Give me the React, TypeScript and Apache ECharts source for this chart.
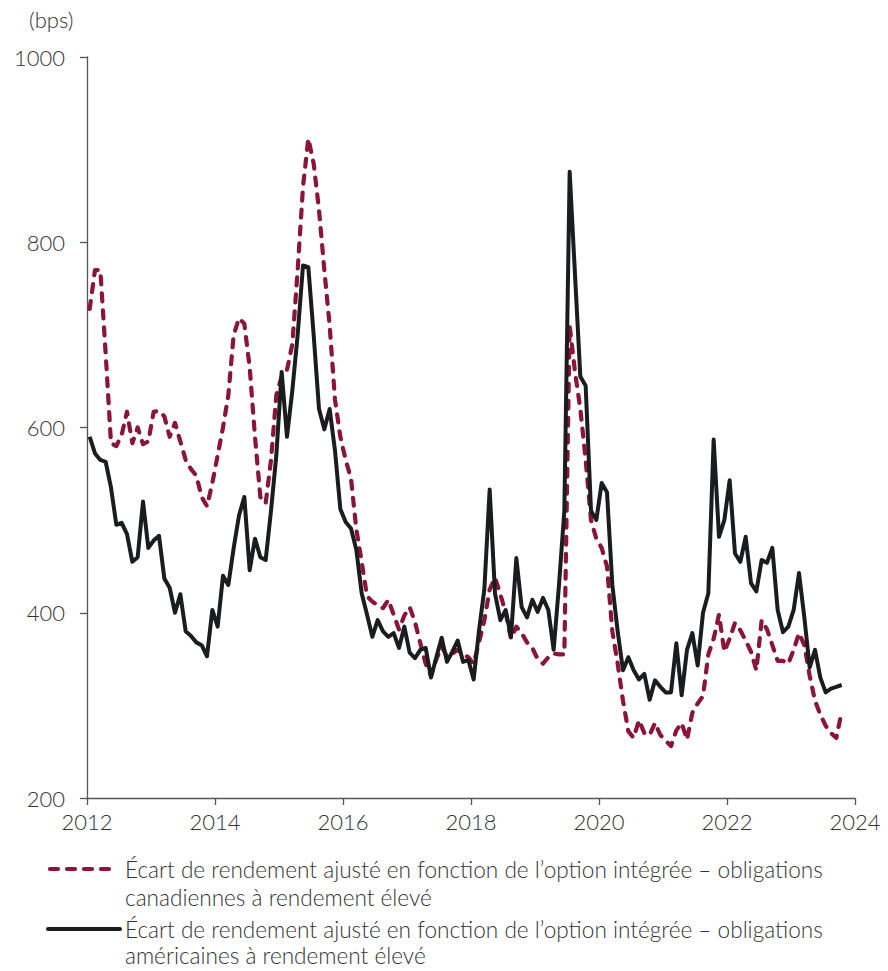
import React, { useEffect, useRef } from "react";
import * as echarts from "echarts";

// Monthly observations, Jan 2012 – Oct 2023 (bps)
const canadaSpread: number[] = [
  728, 770, 770, 680, 583, 580, 592, 617, 583, 600, 582, 585,
  617, 618, 612, 590, 605, 585, 565, 555, 548, 525, 515, 540,
  570, 600, 635, 700, 718, 712, 665, 590, 525, 518, 565, 635,
  655, 662, 690, 770, 860, 912, 885, 835, 770, 710, 630, 590,
  565, 545, 490, 455, 418, 412, 408, 405, 414, 398, 382, 397,
  406, 390, 367, 345, 332, 350, 363, 353, 356, 360, 355, 352,
  345, 368, 392, 425, 438, 420, 400, 372, 385, 378, 368, 362,
  350, 345, 352, 356, 355, 355, 710, 660, 620, 565, 500, 480,
  470, 450, 380, 345, 305, 272, 265, 284, 270, 268, 281, 268,
  262, 256, 273, 281, 263, 292, 302, 310, 355, 372, 398, 358,
  372, 389, 381, 370, 358, 338, 392, 382, 365, 348, 348, 345,
  360, 378, 365, 332, 305, 290, 278, 270, 265, 293,
];

const usSpread: number[] = [
  590, 572, 565, 563, 535, 495, 497, 485, 455, 460, 520, 470,
  478, 483, 437, 427, 400, 420, 380, 375, 368, 365, 353, 403,
  385, 440, 430, 470, 505, 525, 446, 480, 460, 457, 510, 570,
  660, 590, 640, 700, 775, 773, 700, 620, 598, 620, 575, 512,
  498, 491, 468, 421, 398, 374, 392, 380, 374, 378, 362, 385,
  357, 351, 360, 362, 330, 352, 373, 347, 358, 370, 347, 349,
  328, 381, 425, 533, 421, 392, 403, 374, 459, 406, 395, 414,
  401, 416, 403, 360, 430, 510, 876, 765, 655, 645, 510, 500,
  540, 530, 430, 380, 338, 352, 338, 328, 334, 306, 327, 320,
  314, 314, 367, 311, 360, 378, 343, 400, 421, 587, 482, 500,
  543, 464, 455, 482, 432, 423, 457, 454, 470, 403, 379, 385,
  403, 443, 395, 341, 360, 330, 314, 318, 320, 322,
];

const yTicks: number[] = [200, 400, 600, 800, 1000];
const xTicks: number[] = [2012, 2014, 2016, 2018, 2020, 2022, 2024];

const legendLine1 = "Écart de rendement ajusté en fonction de l’option intégrée – obligations";
const legendLine2: string[] = ["canadiennes à rendement élevé", "américaines à rendement élevé"];
const seriesNames: string[] = legendLine2.map((l) => legendLine1 + " " + l);

// month mid-points as decimal years
const monthPositions: number[] = canadaSpread.map((_, i) => 2012 + (i + 0.5) / 12);

const RED = "#8a1538";
const BLACK = "#1b1c1e";
const FONT = "Lato, 'Open Sans', sans-serif";

const legendText = (text: string, y: number) => ({
  type: "text",
  x: 125,
  y,
  style: {
    text,
    fill: "#333",
    fontSize: 22.6,
    fontWeight: 300,
    fontFamily: FONT,
    lineHeight: 22,
    textVerticalAlign: "middle",
  },
});

export default function App() {
  const ref = useRef<HTMLDivElement>(null);

  useEffect(() => {
    document.body.style.margin = "0";
    document.body.style.overflow = "hidden";
    if (!ref.current) return;
    const chart = echarts.init(ref.current, undefined, { renderer: "svg" });
    chart.setOption({
      animation: false,
      backgroundColor: "#ffffff",
      grid: { left: 87, right: 33, top: 57, bottom: 173, containLabel: false },
      xAxis: {
        type: "value",
        min: xTicks[0],
        max: xTicks[xTicks.length - 1],
        interval: 2,
        axisLine: { show: true, lineStyle: { color: "#555", width: 1.3 } },
        axisTick: { show: true, length: 7, lineStyle: { color: "#555", width: 1.3 } },
        splitLine: { show: false },
        axisLabel: {
          color: "#333",
          fontSize: 22,
          fontWeight: 300,
          fontFamily: FONT,
          margin: 12,
          formatter: (v: number) => String(v),
        },
      },
      yAxis: {
        type: "value",
        min: yTicks[0],
        max: yTicks[yTicks.length - 1],
        interval: 200,
        axisLine: { show: true, lineStyle: { color: "#555", width: 1.3 } },
        axisTick: { show: true, length: 7, lineStyle: { color: "#555", width: 1.3 } },
        splitLine: { show: false },
        axisLabel: {
          color: "#333",
          fontSize: 22,
          fontWeight: 300,
          fontFamily: FONT,
          margin: 22,
          formatter: (v: number) => String(v),
        },
      },
      series: [
        {
          name: seriesNames[0],
          type: "line",
          data: monthPositions.map((x, i) => [x, canadaSpread[i]]),
          showSymbol: false,
          symbol: "none",
          z: 2,
          lineStyle: { color: RED, width: 4.2, type: [8, 9], cap: "round", join: "round" },
        },
        {
          name: seriesNames[1],
          type: "line",
          data: monthPositions.map((x, i) => [x, usSpread[i]]),
          showSymbol: false,
          symbol: "none",
          z: 3,
          lineStyle: { color: BLACK, width: 4, join: "round" },
        },
      ],
      graphic: [
        {
          type: "text",
          left: 29,
          top: 8,
          style: { text: "(bps)", fill: "#333", fontSize: 22, fontWeight: 300, fontFamily: FONT },
        },
        {
          type: "line",
          shape: { x1: 50, y1: 869, x2: 118, y2: 869 },
          style: { stroke: RED, lineWidth: 4.2, lineDash: [8, 9], lineCap: "round" },
        },
        legendText(legendLine1, 869),
        legendText(legendLine2[0], 897),
        {
          type: "line",
          shape: { x1: 48, y1: 929, x2: 120, y2: 929 },
          style: { stroke: BLACK, lineWidth: 4, lineCap: "round" },
        },
        legendText(legendLine1, 929),
        legendText(legendLine2[1], 955),
      ],
    });
    return () => chart.dispose();
  }, []);

  return <div ref={ref} style={{ width: 888, height: 971 }} />;
}
